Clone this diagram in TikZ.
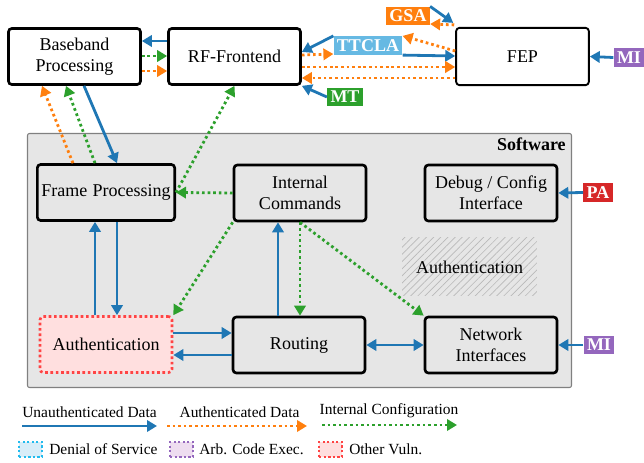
\documentclass[tikz,border=0pt]{standalone}
\usepackage{fontspec}
\setmainfont{Liberation Serif}
\usetikzlibrary{arrows.meta,patterns.meta,calc}
\definecolor{cblue}{HTML}{1F77B4}
\definecolor{corange}{HTML}{FF7F0E}
\definecolor{cgreen}{HTML}{2CA02C}
\definecolor{cpurple}{HTML}{9467BD}
\definecolor{cred}{HTML}{D62728}
\definecolor{clight}{HTML}{66B9E3}
\definecolor{swgray}{HTML}{E6E6E6}
\definecolor{vulnred}{HTML}{FF4444}
\definecolor{vulnfill}{HTML}{FFDFDF}
\definecolor{dosborder}{HTML}{22BBEE}
\definecolor{dosfill}{HTML}{D8EDF8}
\definecolor{acefill}{HTML}{EEDDF0}
\begin{document}
\begin{tikzpicture}[x=0.75pt,y=-0.75pt,
  font=\fontsize{13.5}{16}\selectfont,
  >={Triangle[length=7.5pt,width=8.5pt]},
  box/.style={draw=black, line width=2pt, rounded corners=2.5pt,
    minimum width=99pt, minimum height=42pt, align=center, inner sep=1pt},
  lbl/.style={text=white, font=\fontsize{13.5}{16}\selectfont\bfseries,
    inner xsep=2.5pt, inner ysep=0pt, minimum height=14pt},
  udata/.style={cblue, line width=2.1pt, ->},
  adata/.style={corange, line width=2.1pt, dash pattern=on 2pt off 2.2pt, ->},
  cfg/.style={cgreen, line width=2.1pt, dash pattern=on 2pt off 2.2pt, ->},
  legtext/.style={font=\fontsize{11.6}{13}\selectfont, inner sep=0pt},
  legbox/.style={line width=1.7pt, dash pattern=on 1.7pt off 1.7pt,
    minimum width=17pt, minimum height=11pt, inner sep=0pt},
]
\useasboundingbox (0,0) rectangle (644,463);

% software container
\node (sw) [draw=gray, fill=swgray, line width=0.8pt, rounded corners=1.5pt,
  minimum width=408pt, minimum height=190.5pt, inner sep=0pt] at (299.5,260.5) {};
\node (swlabel) [anchor=north east, font=\fontsize{13.5}{16}\selectfont\bfseries, inner sep=1.5pt]
  at (568,136) {Software};

% hardware blocks
\node (bb) [box] at (74.5,56.5) {Baseband\\Processing};
\node (rf) [box] at (234.5,56.5) {RF-Frontend};
\node (fep) [box, line width=1.4pt, minimum width=99.5pt, minimum height=43pt] at (522.5,56.5) {FEP};

% software blocks
\node (fr) [box, minimum width=103pt] at (106,192.5) {Frame\hspace{0.3em}Processing};
\node (ic) [box] at (300,193) {Internal\\Commands};
\node (dbg) [box] at (491,193) {Debug / Config\\Interface};
\node (hauth) [pattern={Lines[angle=45,distance=3.8pt,line width=0.5pt]}, pattern color=gray!55,
  minimum width=101pt, minimum height=43.5pt, inner sep=0pt] at (469.5,267) {Authentication};
\node (au) [box, draw=vulnred, fill=vulnfill, dash pattern=on 2pt off 2pt] at (106,344.5) {Authentication};
\node (ro) [box] at (299,345) {Routing};
\node (ni) [box] at (491,345) {Network\\Interfaces};

% attack labels
\node (gsa) [lbl, fill=corange] at (408,16) {GSA};
\node (ttcla) [lbl, fill=clight] at (368,45.5) {TTCLA};
\node (mt) [lbl, fill=cgreen] at (345,97) {MT};
\node (mia) [lbl, fill=cpurple] at (629,57.5) {MI};
\node (pa) [lbl, fill=cred] at (598,192.5) {PA};
\node (mib) [lbl, fill=cpurple] at (599,345) {MI};

% baseband <-> RF frontend
\draw[udata] (rf.west |- 0,41) -- (bb.east |- 0,41);
\draw[cfg] (bb.east |- 0,56) -- (rf.west |- 0,56);
\draw[adata] (bb.east |- 0,71) -- (rf.west |- 0,71);

% RF frontend <-> FEP
\draw[udata] (ttcla.north west) -- (rf.east |- 0,52);
\draw[adata] (rf.east |- 0,55) -- (ttcla.west |- 0,54);
\draw[udata] (ttcla.south east) -- (fep.west |- 0,56);
\draw[adata] (fep.west |- 0,51) -- (ttcla.north east);
\draw[adata] (rf.east |- 0,67) -- (fep.west |- 0,67);
\draw[adata] (fep.west |- 0,78) -- (rf.east |- 0,78);
\draw[udata] (mt.west) -- (rf.south east);
\draw[udata] (gsa.north east) -- ($(fep.north west)+(-2,-4)$);
\draw[adata] ($(fep.north west)+(-1,-2)$) -- (gsa.east |- 0,24);
\draw[udata] (mia.west) -- (fep.east);

% baseband <-> frame processing
\draw[udata] (bb.south -| 84,0) -- (fr.north -| 117,0);
\draw[adata] (fr.north -| 73,0) -- (bb.south -| 42,0);
\draw[cfg] (fr.north -| 95,0) -- (bb.south -| 66,0);
\draw[cfg] (fr.east) -- (rf.south);

% inside the software block
\draw[cfg] (ic.west) -- (fr.east);
\draw[cfg] (ic.south west) -- (au.north east);
\draw[udata] (au.north -| 95,0) -- (fr.south -| 95,0);
\draw[udata] (fr.south -| 117,0) -- (au.north -| 117,0);
\draw[udata] (ro.north -| 278,0) -- (ic.south -| 278,0);
\draw[cfg] (ic.south -| 300,0) -- (ro.north -| 300,0);
\draw[cfg] (ic.south -| 300,0) -- (ni.north west);
\draw[udata] (au.east |- 0,333) -- (ro.west |- 0,333);
\draw[udata] (ro.west |- 0,355) -- (au.east |- 0,355);
\draw[udata, <->] (ro.east) -- (ni.west);
\draw[udata] (pa.west) -- (dbg.east);
\draw[udata] (mib.west) -- (ni.east);

% legend: data flows
\coordinate (ua) at (22,426);
\coordinate (ub) at (157,426);
\coordinate (aa) at (167,426);
\coordinate (ab) at (307,426);
\coordinate (ca) at (322,425);
\coordinate (cb) at (457,425);
\draw[udata] (ua) -- (ub);
\draw[adata] (aa) -- (ab);
\draw[cfg] (ca) -- (cb);
\node (lu) [legtext, anchor=base] at (89.5,418) {Unauthenticated Data};
\node (la) [legtext, anchor=base] at (239.5,418) {Authenticated Data};
\node (lc) [legtext, anchor=base] at (389,415) {Internal Configuration};

% legend: vulnerability classes
\node (kdos) [legbox, draw=dosborder, fill=dosfill] at (30.5,449.5) {};
\node (tdos) [legtext, anchor=base west] at (49,455) {Denial of Service};
\node (kace) [legbox, draw=cpurple, fill=acefill] at (181.5,449.5) {};
\node (tace) [legtext, anchor=base west] at (199,455) {Arb. Code Exec.};
\node (koth) [legbox, draw=vulnred, fill=vulnfill] at (330.5,449.5) {};
\node (toth) [legtext, anchor=base west] at (349,455) {Other Vuln.};
\end{tikzpicture}
\end{document}
